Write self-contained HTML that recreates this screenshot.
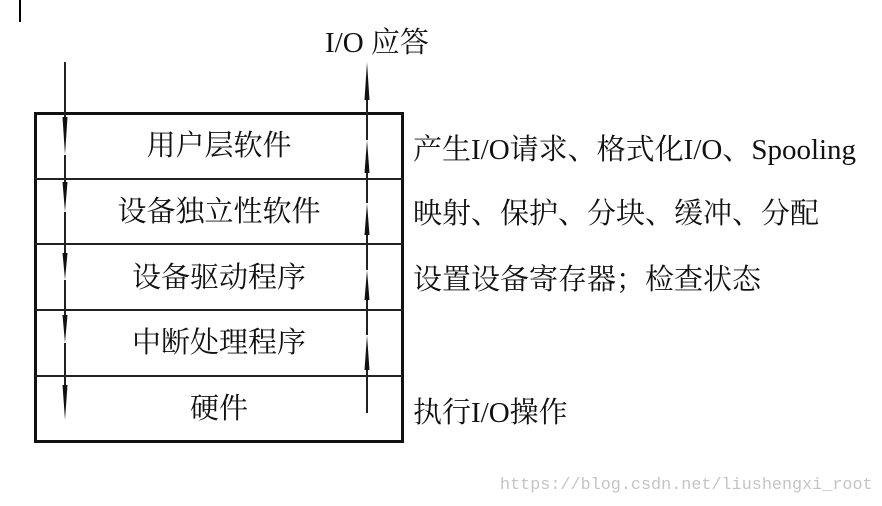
<!DOCTYPE html>
<html><head><meta charset="utf-8"><style>
body{margin:0;width:882px;height:506px;background:#fff;position:relative;overflow:hidden;font-family:"Liberation Serif","Noto Serif CJK SC",serif;color:#111}
.t{position:absolute;font-size:29px;line-height:34px;white-space:nowrap}
.c{text-align:center;left:35px;width:368px}
.wm{position:absolute;left:500px;top:476px;font-family:"Liberation Mono",monospace;font-size:16.8px;color:#c4c4c4}
</style></head><body>
<div style="position:absolute;left:19px;top:0;width:2px;height:22px;background:#000"></div>
<svg width="882" height="506" style="position:absolute;left:0;top:0">
<rect x="35.5" y="113.5" width="367" height="328" fill="none" stroke="#111" stroke-width="3"/>
<g stroke="#222" stroke-width="2">
<line x1="35" y1="179" x2="403" y2="179"/><line x1="35" y1="244" x2="403" y2="244"/>
<line x1="35" y1="310" x2="403" y2="310"/><line x1="35" y1="376" x2="403" y2="376"/>
<line x1="65" y1="62" x2="65" y2="118"/><line x1="65" y1="155" x2="65" y2="182"/>
<line x1="65" y1="212" x2="65" y2="253"/><line x1="65" y1="280" x2="65" y2="315"/>
<line x1="65" y1="343" x2="65" y2="385"/>
<line x1="367" y1="100" x2="367" y2="140"/><line x1="367" y1="173" x2="367" y2="203"/>
<line x1="367" y1="235" x2="367" y2="270"/><line x1="367" y1="300" x2="367" y2="335"/>
<line x1="367" y1="370" x2="367" y2="413"/>
</g>
<g fill="#111">
<polygon points="62.5,117 67.5,117 65,155"/><polygon points="62.5,182 67.5,182 65,212"/>
<polygon points="62.5,253 67.5,253 65,280"/><polygon points="62.5,315 67.5,315 65,343"/>
<polygon points="62.5,385 67.5,385 65,420"/>
<polygon points="364.5,100 369.5,100 367,62"/><polygon points="364.5,173 369.5,173 367,140"/>
<polygon points="364.5,235 369.5,235 367,203"/><polygon points="364.5,300 369.5,300 367,270"/>
<polygon points="364.5,370 369.5,370 367,335"/>
</g>
</svg>
<div class="t" style="left:325px;top:26px">I/O 应答</div>
<div class="t c" style="top:129px">用户层软件</div>
<div class="t c" style="top:195px">设备独立性软件</div>
<div class="t c" style="top:261px">设备驱动程序</div>
<div class="t c" style="top:326px">中断处理程序</div>
<div class="t c" style="top:392px">硬件</div>
<div class="t" style="left:413px;top:133px">产生I/O请求、格式化I/O、Spooling</div>
<div class="t" style="left:413px;top:197px">映射、保护、分块、缓冲、分配</div>
<div class="t" style="left:413px;top:263px">设置设备寄存器；检查状态</div>
<div class="t" style="left:413px;top:396px">执行I/O操作</div>
<div class="wm">https://blog.csdn.net/liushengxi_root</div>
</body></html>
